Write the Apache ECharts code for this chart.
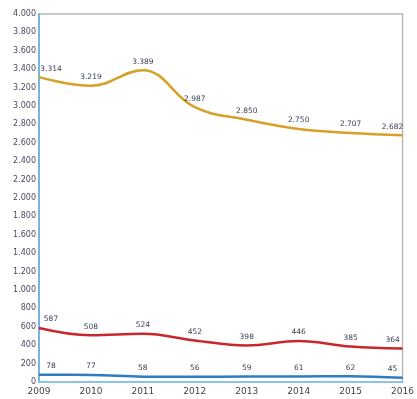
<!DOCTYPE html>
<html>
<head>
<meta charset="utf-8">
<script src="https://cdn.jsdelivr.net/npm/echarts@6/dist/echarts.min.js"></script>
<style>
  html, body { margin: 0; padding: 0; background: #fff; }
  #main { width: 417px; height: 399px; }
</style>
</head>
<body>
<div id="main"></div>
<script>
var years = ['2009', '2010', '2011', '2012', '2013', '2014', '2015', '2016'];
var orangeValues = [3314, 3219, 3389, 2987, 2850, 2750, 2707, 2682];
var redValues = [587, 508, 524, 452, 398, 446, 385, 364];
var blueValues = [78, 77, 58, 56, 59, 61, 62, 45];

function fmt(v) {
  return String(v).replace(/\B(?=(\d{3})+(?!\d))/g, '.');
}

function line(data, color) {
  var last = data.length - 1;
  return {
    type: 'line',
    data: data,
    smooth: 0.4,
    symbol: 'circle',
    symbolSize: 1,
    itemStyle: { color: color },
    lineStyle: { color: color, width: 2.5 },
    // first and last labels are pushed inside the plot
    labelLayout: function (p) {
      if (p.dataIndex === 0) return { dx: 12, hideOverlap: false };
      if (p.dataIndex === last) return { dx: -10, hideOverlap: false };
      return { hideOverlap: false };
    },
    label: {
      show: true,
      position: 'top',
      distance: 4,
      fontSize: 7.5,
      fontFamily: 'DejaVu Sans',
      color: '#3a4258',
      formatter: function (p) { return fmt(p.value); }
    }
  };
}

var myChart = echarts.init(document.getElementById('main'));
myChart.setOption({
  animation: false,
  grid: {
    left: 39, right: 11, top: 14, bottom: 17,
    show: true,
    borderColor: '#b8b8b8',
    borderWidth: 1.5
  },
  xAxis: {
    type: 'category',
    boundaryGap: false,
    data: years,
    axisLine: { lineStyle: { color: '#8fc3e6', width: 2 } },
    axisTick: { show: false },
    axisLabel: { fontSize: 9, color: '#444', fontFamily: 'DejaVu Sans', margin: 5 }
  },
  yAxis: {
    type: 'value',
    min: 0,
    max: 4000,
    interval: 200,
    axisLine: { show: true, lineStyle: { color: '#7ab4dc', width: 2 } },
    axisTick: { show: false },
    splitLine: { show: false },
    axisLabel: {
      fontSize: 8,
      color: '#4a4a60',
      fontFamily: 'DejaVu Sans',
      margin: 3,
      formatter: fmt
    }
  },
  series: [
    line(orangeValues, '#d6a128'),
    line(redValues, '#c9272c'),
    line(blueValues, '#2f7cc2')
  ]
});
</script>
</body>
</html>
